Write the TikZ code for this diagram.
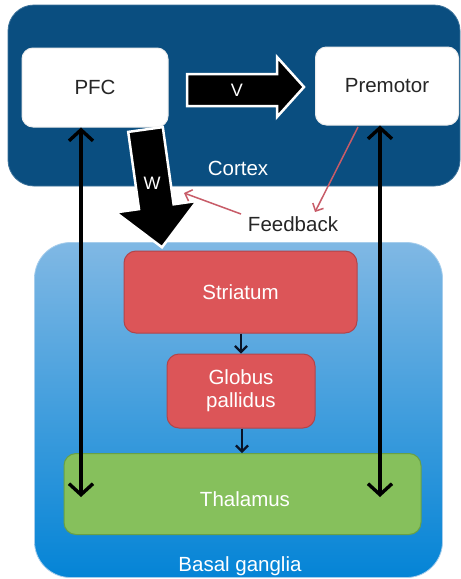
\documentclass[tikz,border=0pt]{standalone}
\usepackage{fontspec}
\setmainfont{Liberation Sans}
\usetikzlibrary{arrows.meta}
\definecolor{cortexblue}{RGB}{10,78,128}
\definecolor{bgtop}{RGB}{128,184,228}
\definecolor{bgbot}{RGB}{4,132,214}
\definecolor{strred}{RGB}{220,85,88}
\definecolor{strborder}{RGB}{178,68,74}
\definecolor{thalgreen}{RGB}{134,192,92}
\definecolor{thalborder}{RGB}{104,160,70}
\definecolor{fbred}{RGB}{200,92,104}
\definecolor{darknavy}{RGB}{10,20,40}
\begin{document}
\begin{tikzpicture}[x=1pt,y=-1pt,
  txt/.style={font=\fontsize{20.5}{24}\selectfont, align=center, inner sep=0pt},
  whitebox/.style={draw=white!85!gray, line width=1pt, fill=white, rounded corners=11pt, inner sep=0pt},
  redbox/.style={draw=strborder, line width=1pt, fill=strred, rounded corners=12pt, inner sep=0pt, text=white},
  greenbox/.style={draw=thalborder, line width=1pt, fill=thalgreen, rounded corners=12pt, inner sep=0pt, text=white},
  blockarrow/.style={draw=white, line width=2.5pt, fill=black, line join=miter},
  longarrow/.style={line width=3.4pt, black, {Straight Barb[length=11pt,width=24pt,line width=3.4pt]}-{Straight Barb[length=11pt,width=24pt,line width=3.4pt]}},
  smallarrow/.style={line width=2.2pt, darknavy, -{Straight Barb[length=6pt,width=12pt,line width=2.2pt]}},
  fbarrow/.style={line width=1.5pt, fbred, -{Straight Barb[length=6pt,width=12pt,line width=1.5pt]}}
]
\useasboundingbox (0,0) rectangle (461,579);
\fill[white] (0,0) rectangle (461,579);
% Cortex
\node[draw=cortexblue!80!white, line width=0.8pt, fill=cortexblue, rounded corners=26pt, minimum width=452pt, minimum height=181pt, inner sep=0pt] (cortex) at (234,95.5) {};
% Basal ganglia
\node[draw=bgtop!70!white, line width=0.8pt, top color=bgtop, bottom color=bgbot, rounded corners=36pt, minimum width=408pt, minimum height=335pt, inner sep=0pt] (bg) at (238.5,410) {};
% Cortex boxes
\node[whitebox, minimum width=146pt, minimum height=79pt] (pfc) at (95,87.5) {};
\node[txt, text=black!85] (pfcl) at (pfc.center) {PFC};
\node[whitebox, minimum width=143pt, minimum height=78pt] (pm) at (387,86) {};
\node[txt, text=black!85] (pml) at (pm.center) {Premotor};
\node[txt, text=white] (cortexl) at (238,168) {Cortex};
% V arrow
\draw[blockarrow] (187,74) -- (277,74) -- (277,57) -- (304,87) -- (277,117) -- (277,106) -- (187,106) -- cycle;
\node[txt, text=white, font=\fontsize{18}{20}\selectfont] (vl) at (237,90) {V};
% W arrow
\draw[blockarrow] (128.2,131.9) -- (162.8,127.1) -- (173.6,204.3) -- (196.9,201.0) -- (162,247.3) -- (115.7,212.4) -- (139,209.1) -- cycle;
\node[txt, text=white, font=\fontsize{18}{20}\selectfont] (wl) at (152,183) {W};
% Feedback
\node[txt, text=black!85] (fb) at (293,224) {Feedback};
\coordinate (fbstart) at (241,214);
\coordinate (fbtipw) at (184,193);
\coordinate (pmfb) at (358,127);
\coordinate (fbtipt) at (315,212);
\draw[fbarrow] (fbstart) -- (fbtipw);
\draw[fbarrow] (pmfb) -- (fbtipt);
% Basal ganglia boxes
\node[redbox, minimum width=233pt, minimum height=82pt] (str) at (240.5,292) {};
\node[txt, text=white] (strl) at (str.center) {Striatum};
\node[redbox, minimum width=148pt, minimum height=74pt] (gp) at (241,391) {};
\node[txt, text=white] (gpl) at (gp.center) {Globus\\[-1pt]pallidus};
\node[greenbox, minimum width=357pt, minimum height=81pt] (thal) at (242.5,494) {};
\node[txt, text=white] (thall) at (245,499) {Thalamus};
\node[txt, text=white] (bgl) at (240,566) {Basal ganglia};
% small arrows
\coordinate (sx) at (241,0);
\coordinate (gx) at (242,0);
\draw[smallarrow] (sx |- str.south) -- (sx |- gp.north);
\draw[smallarrow] (gx |- gp.south) -- (gx |- thal.north);
% long arrows
\coordinate (lx) at (81,0);
\coordinate (rx) at (380,0);
\coordinate (bot) at (0,497);
\draw[longarrow] (lx |- pfc.south) -- (lx |- bot);
\draw[longarrow] (rx |- pm.south) -- (rx |- bot);
\end{tikzpicture}
\end{document}
